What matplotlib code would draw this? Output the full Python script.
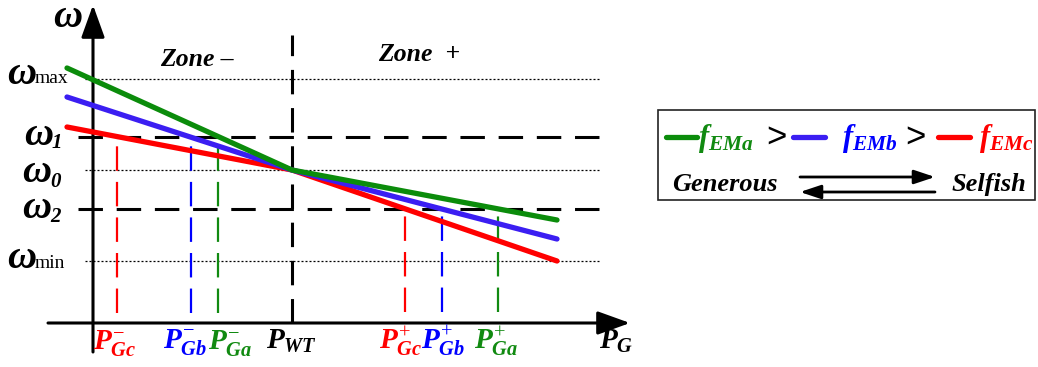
import matplotlib
matplotlib.use("Agg")
import matplotlib.pyplot as plt
from matplotlib.patches import Rectangle

plt.rcParams['mathtext.fontset'] = 'custom'
plt.rcParams['mathtext.rm'] = 'Liberation Serif'
plt.rcParams['mathtext.it'] = 'Liberation Serif:italic:bold'
plt.rcParams['mathtext.bf'] = 'Liberation Serif:italic:bold'

# droop characteristics (P on x, omega on y, arbitrary units)
P_WT = 19.9
P_start, P_end = -2.6, 46.4
omega_levels = {'max': 24.4, '1': 18.6, '0': 15.3, '2': 11.4, 'min': 6.2}
names = ['a', 'b', 'c']
colors = ['#0b8c0b', '#3b1ef2', '#ff0000']
vcolors = ['#118a11', '#0000ff', '#ff0000']
omega_left = [25.5, 22.6, 19.6]
omega_right = [10.3, 8.4, 6.2]
P_minus = [12.5, 9.8, 2.4]
P_plus = [40.5, 34.9, 31.2]
lab_minus_dx = [8.6, -4.3, -1.5]
lab_plus_dx = [-1, 0.7, -3]

fig = plt.figure(figsize=(10.38, 3.67), dpi=100)
ax = fig.add_axes([0, 0, 1, 1])
ax.set_xlim(-9.3, 94.5)
ax.set_ylim(-4.4, 32.3)
ax.axis('off')

bold_it = dict(family='Liberation Serif', weight='bold', style='italic')


def px(x, y):
    # figure pixel -> data
    return (x - 93) / 10.0, (323 - y) / 10.0


# reference levels
for k in ['max', '0', 'min']:
    ax.plot([-0.8, 50.7], [omega_levels[k]] * 2, color='k', lw=0.9, dashes=(1.6, 1.6))
for k in ['1', '2']:
    ax.plot([-1.5, 51.0], [omega_levels[k]] * 2, color='k', lw=2.2, dashes=(8, 4.5))
ax.plot([P_WT, P_WT], [0, 28.8], color='k', lw=2.2, dashes=(8, 4.5))

# droop lines
for i in [2, 1, 0]:
    ax.plot([P_start, P_WT, P_end], [omega_left[i], omega_levels['0'], omega_right[i]],
            color=colors[i], lw=3.8, solid_capstyle='round', zorder=4)

# projections
for i in range(3):
    ax.plot([P_minus[i]] * 2, [1.0, omega_levels['1']], color=vcolors[i], lw=1.6, dashes=(11, 5))
    ax.plot([P_plus[i]] * 2, [1.1, omega_levels['2']], color=vcolors[i], lw=1.6, dashes=(11, 5))

# axes with arrows
ax.annotate('', xy=(53.7, 0), xytext=(-4.5, 0),
            arrowprops=dict(arrowstyle='-|>,head_length=1.0,head_width=0.36', lw=2.2,
                            color='k', mutation_scale=20, shrinkA=0, shrinkB=0))
ax.annotate('', xy=(0, 31.8), xytext=(0, -2.9),
            arrowprops=dict(arrowstyle='-|>,head_length=1.0,head_width=0.36', lw=2.2,
                            color='k', mutation_scale=20, shrinkA=0, shrinkB=0))

# omega labels
ax.text(*px(53, 27), '\u03c9', fontsize=29, ha='left', va='baseline', **bold_it)
omega_lab = [('max', (7, 84), (35, 83), False),
             ('1', (24, 145), (52, 148), True),
             ('0', (22, 182), (50, 187), True),
             ('2', (22, 218), (50, 222), True),
             ('min', (7, 268), (35, 268), False)]
for sub, p_w, p_s, it in omega_lab:
    ax.text(*px(*p_w), '\u03c9', fontsize=29, ha='left', va='baseline', **bold_it)
    if it:
        ax.text(*px(*p_s), sub, fontsize=15, ha='left', va='baseline', **bold_it)
    else:
        ax.text(*px(*p_s), sub, fontsize=14, ha='left', va='baseline', family='Liberation Serif')

ax.text(*px(197, 60), 'Zone \u2013', fontsize=18.5, ha='center', va='center', **bold_it)
ax.text(*px(419, 55), 'Zone  +', fontsize=18.5, ha='center', va='center', **bold_it)

base = px(0, 349)[1]
for i, n in enumerate(names):
    ax.annotate(r'$P_{G%s}^{-}$' % n, xy=(P_minus[i], base), xytext=(lab_minus_dx[i], 0),
                textcoords='offset points', fontsize=21, ha='center', va='baseline',
                color=vcolors[i])
    ax.annotate(r'$P_{G%s}^{+}$' % n, xy=(P_plus[i], base), xytext=(lab_plus_dx[i], 0),
                textcoords='offset points', fontsize=21, ha='center', va='baseline',
                color=vcolors[i])
ax.text(P_WT, base, r'$P_{WT}$', fontsize=21, ha='center', va='baseline')
ax.text(52.3, base, r'$P_{G}$', fontsize=21, ha='center', va='baseline')

# legend box
ax.add_patch(Rectangle((56.5, 12.3), 37.7, 9.0, fill=False, ec='#222222', lw=1.2))
leg_y = 18.6
seg_x = [(57.3, 60.4), (70.0, 73.2), (84.5, 87.7)]
txt_x = [60.5, 74.9, 88.6]
for i, n in enumerate(names):
    ax.plot(seg_x[i], [leg_y, leg_y], color=colors[i], lw=3.8, solid_capstyle='round')
    ax.text(txt_x[i], leg_y - 0.95, r'$f_{EM%s}$' % n, fontsize=22, ha='left',
            va='baseline', color=vcolors[i])
ax.text(68.3, leg_y, '>', fontsize=25, ha='center', va='center', family='Liberation Sans')
ax.text(82.2, leg_y, '>', fontsize=25, ha='center', va='center', family='Liberation Sans')

ax.text(*px(672, 191), 'Generous', fontsize=19, ha='left', va='baseline', **bold_it)
ax.text(*px(952, 191), 'Selfish', fontsize=19, ha='left', va='baseline', **bold_it)
ax.annotate('', xy=(84.2, 14.6), xytext=(70.7, 14.6),
            arrowprops=dict(arrowstyle='-|>,head_length=0.9,head_width=0.3', lw=2.0,
                            color='k', mutation_scale=14, shrinkA=0, shrinkB=0))
ax.annotate('', xy=(70.7, 13.1), xytext=(84.2, 13.1),
            arrowprops=dict(arrowstyle='-|>,head_length=0.9,head_width=0.3', lw=2.0,
                            color='k', mutation_scale=14, shrinkA=0, shrinkB=0))

fig.savefig('out.png', dpi=100)
